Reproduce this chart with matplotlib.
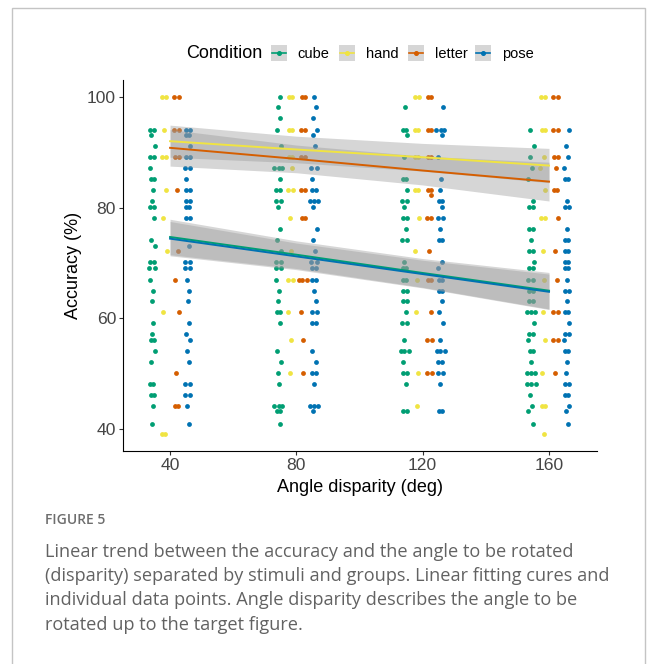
import matplotlib
matplotlib.use("Agg")
import matplotlib.pyplot as plt
from matplotlib.patches import Rectangle
from matplotlib.lines import Line2D
from collections import Counter

# ---------------- data ----------------
angles = [40, 80, 120, 160]
conditions = ["cube", "hand", "letter", "pose"]
colors = {"cube": "#009E73", "hand": "#F0E442", "letter": "#D55E00", "pose": "#0072B2"}

cube_40 = [94.1, 94.1, 93.1, 91.1, 89.2, 89.2, 87.1, 85.1, 85.1, 83.2, 81.2, 80.1, 80.1, 78.2,
           74.1, 73.1, 70.2, 70.2, 69.1, 69.1, 67.0, 65.0, 63.1, 59.1, 57.1, 56.1, 56.1, 54.1,
           52.1, 48.1, 48.1, 46.1, 46.1, 44.1, 41.0]
hand_40 = [100, 100, 94.1, 89.2, 89.2, 83.2, 78.2, 72.1, 61.1, 39.1, 39.1]
letter_40 = [100, 100, 94.1, 94.1, 89.2, 89.2, 83.2, 72.1, 67.0, 61.1, 50.1, 44.1, 44.1]
pose_40 = [94.1, 94.1, 93.1, 93.1, 91.1, 89.2, 89.2, 87.1, 87.1, 85.1, 83.2, 83.2, 81.2, 81.2,
           80.1, 80.1, 78.2, 78.2, 73.1, 70.2, 70.2, 69.1, 69.1, 67.0, 65.0, 63.1, 59.1, 57.1,
           56.1, 54.1, 52.1, 48.1, 48.1, 46.1, 46.1, 44.1, 41.0]

cube_80 = [100, 98.1, 96.1, 94.1, 91.1, 87.1, 87.1, 87.1, 85.1, 83.2, 83.2, 81.2, 81.2, 80.1,
           76.1, 74.1, 72.1, 70.2, 70.2, 69.1, 69.1, 67.0, 65.0, 63.1, 61.1, 61.1, 59.1, 54.1,
           52.1, 50.1, 48.1, 44.1, 44.1, 44.1, 43.2, 43.2, 41.0]
hand_80 = [100, 100, 94.1, 94.1, 89.2, 89.2, 87.1, 83.2, 83.2, 78.2, 72.1, 67.0, 67.0, 61.1,
           56.1, 50.1]
letter_80 = [100, 100, 94.1, 94.1, 89.2, 89.2, 83.2, 83.2, 78.2, 78.2, 67.0, 67.0, 67.0, 61.1,
             56.1, 50.1]
pose_80 = [100, 98.1, 96.1, 94.1, 93.1, 91.1, 87.1, 87.1, 85.1, 83.2, 83.2, 81.2, 81.2, 81.2,
           80.1, 76.1, 74.1, 72.1, 70.2, 70.2, 69.1, 69.1, 67.0, 67.0, 65.0, 63.1, 61.1, 61.1,
           59.1, 59.1, 54.1, 52.1, 50.1, 50.1, 48.1, 44.1, 44.1, 44.1, 43.2]

cube_120 = [98.1, 94.1, 94.1, 93.1, 89.2, 85.1, 85.1, 83.2, 81.2, 81.2, 80.1, 78.2, 78.2, 76.1,
            74.1, 74.1, 70.2, 69.1, 69.1, 67.0, 67.0, 65.0, 65.0, 63.1, 63.1, 61.1, 59.1, 59.1,
            56.1, 54.1, 54.1, 54.1, 52.1, 50.1, 50.1, 48.1, 43.2, 43.2]
hand_120 = [100, 100, 94.1, 94.1, 89.2, 89.2, 83.2, 83.2, 78.2, 72.1, 67.0, 61.1, 50.1, 44.1]
letter_120 = [100, 100, 94.1, 94.1, 89.2, 89.2, 83.2, 83.2, 82.2, 78.2, 78.2, 72.1, 67.0, 67.0,
              61.1, 56.1, 56.1, 50.1, 50.1]
pose_120 = [98.1, 94.1, 94.1, 94.1, 93.1, 89.2, 85.1, 83.2, 81.2, 81.2, 80.1, 78.2, 78.2, 76.1,
            74.1, 74.1, 70.2, 69.1, 67.0, 67.0, 65.0, 65.0, 63.1, 61.1, 59.1, 56.1, 54.1, 54.1,
            54.1, 52.1, 52.1, 50.1, 50.1, 48.1, 43.2, 43.2]

cube_160 = [94.1, 91.1, 89.2, 87.1, 85.1, 81.2, 80.1, 80.1, 76.1, 76.1, 74.1, 72.1, 72.1, 70.2,
            69.1, 69.1, 67.0, 67.0, 65.0, 65.0, 63.1, 63.1, 61.1, 61.1, 61.1, 59.1, 57.1, 57.1,
            56.1, 54.1, 54.1, 52.1, 50.1, 50.1, 50.1, 48.1, 48.1, 48.1, 46.1, 44.1, 43.2, 41.0]
hand_160 = [100, 100, 94.1, 94.1, 89.2, 87.1, 83.2, 78.2, 78.2, 72.1, 67.0, 61.1, 56.1, 50.1,
            44.1, 44.1, 39.1]
letter_160 = [100, 100, 94.1, 94.1, 89.2, 89.2, 87.1, 83.2, 83.2, 78.2, 72.1, 67.0, 61.1, 61.1,
              56.1, 56.1, 50.1]
pose_160 = [94.1, 91.1, 89.2, 87.1, 85.1, 85.1, 81.2, 80.1, 80.1, 76.1, 74.1, 74.1, 72.1, 72.1,
            70.2, 70.2, 69.1, 69.1, 67.0, 65.0, 65.0, 63.1, 61.1, 61.1, 59.1, 57.1, 57.1, 56.1,
            54.1, 54.1, 52.1, 50.1, 48.1, 48.1, 46.1, 46.1, 44.1, 43.2, 41.0]

points = {
    "cube": [cube_40, cube_80, cube_120, cube_160],
    "hand": [hand_40, hand_80, hand_120, hand_160],
    "letter": [letter_40, letter_80, letter_120, letter_160],
    "pose": [pose_40, pose_80, pose_120, pose_160],
}

# linear fits (value at each angle) and confidence band bounds
fit_cube = [74.7, 71.5, 68.2, 65.0]
fit_hand = [92.0, 90.5, 89.1, 87.6]
fit_letter = [90.8, 88.8, 86.7, 84.7]
fit_pose = [74.4, 71.2, 68.0, 64.8]

lo_cube = [71.5, 69.0, 65.6, 61.7]
hi_cube = [77.9, 74.0, 70.8, 68.3]
lo_hand = [89.1, 88.1, 86.6, 84.5]
hi_hand = [94.9, 92.9, 91.6, 90.7]
lo_letter = [87.5, 86.3, 84.1, 81.2]
hi_letter = [94.1, 91.3, 89.3, 88.2]
lo_pose = [71.3, 68.8, 65.5, 61.6]
hi_pose = [77.5, 73.6, 70.5, 68.0]

fits = {"cube": fit_cube, "hand": fit_hand, "letter": fit_letter, "pose": fit_pose}
bands = {"cube": (lo_cube, hi_cube), "hand": (lo_hand, hi_hand),
         "letter": (lo_letter, hi_letter), "pose": (lo_pose, hi_pose)}

x_ticks = [40, 80, 120, 160]
y_ticks = [40, 60, 80, 100]

caption_title = "FIGURE 5"
caption_lines = [
    "Linear trend between the accuracy and the angle to be rotated",
    "(disparity) separated by stimuli and groups. Linear fitting cures and",
    "individual data points. Angle disparity describes the angle to be",
    "rotated up to the target figure.",
]

# ---------------- figure ----------------
W, H = 657, 664
fig = plt.figure(figsize=(W / 100, H / 100), dpi=100)
fig.patch.set_facecolor("white")

def fx(px):
    return px / W

def fy(py):
    return 1 - py / H

# outer frame
fig.add_artist(Rectangle((fx(12), fy(700)), fx(645) - fx(12), fy(8) - fy(700),
                         transform=fig.transFigure, fill=False, edgecolor="#c4c4c4", lw=1.0))

ax = fig.add_axes([fx(123), fy(451), fx(597) - fx(123), fy(80) - fy(451)])
ax.set_xlim(25.1, 175.2)
ax.set_ylim(36.05, 103.05)

dodge = {"cube": -5.7, "hand": -1.9, "letter": 2.1, "pose": 5.6}
jit_cycle = [0.0, 0.55, -0.45, 0.8, -0.25, 0.3, -0.8, 0.6, -0.6, 0.15, -0.1, 0.45]

k = 0
for cond in conditions:
    xs, ys = [], []
    for a, vals in zip(angles, points[cond]):
        cnt = Counter(vals)
        for v, n in cnt.items():
            for i in range(n):
                off = (i - (n - 1) / 2) * 1.25
                j = jit_cycle[k % len(jit_cycle)] * (1.0 if n == 1 else 0.25)
                k += 1
                xs.append(a + dodge[cond] + off + j)
                ys.append(v)
    ax.scatter(xs, ys, s=12, color=colors[cond], linewidths=0, zorder=1)

for cond in conditions:
    lo, hi = bands[cond]
    ax.fill_between(angles, lo, hi, color="#999999", alpha=0.4, linewidth=0, zorder=2)
for cond in ["cube", "pose", "hand", "letter"]:
    ax.plot(angles, fits[cond], color=colors[cond], lw=1.4, zorder=3)

for s in ["top", "right"]:
    ax.spines[s].set_visible(False)
for s in ["left", "bottom"]:
    ax.spines[s].set_color("black")
    ax.spines[s].set_linewidth(0.8)

ax.set_xticks(x_ticks)
ax.set_yticks(y_ticks)
ax.set_xticklabels([str(t) for t in x_ticks])
ax.set_yticklabels([str(t) for t in y_ticks])
ax.tick_params(axis="both", length=3, width=0.8, color="#333333", labelcolor="#454545",
               labelsize=12.6, pad=2)
for lab in ax.get_xticklabels() + ax.get_yticklabels():
    lab.set_fontfamily("Liberation Sans")

ax.set_xlabel("Angle disparity (deg)", fontsize=13, family="Liberation Sans", labelpad=4)
ax.set_ylabel("Accuracy (%)", fontsize=13, family="Liberation Sans", labelpad=4)

# legend (drawn manually, ggplot-like horizontal layout)
fig.text(fx(186), fy(54), "Condition", fontsize=13, family="Liberation Sans",
         ha="left", va="center")
key_x = {"cube": 271, "hand": 339, "letter": 408, "pose": 475}
lab_x = {"cube": 297, "hand": 366, "letter": 435, "pose": 502}
for cond in conditions:
    x0 = key_x[cond]
    fig.add_artist(Rectangle((fx(x0), fy(60.5)), fx(15.5), fy(45) - fy(60.5),
                             transform=fig.transFigure, facecolor="#d6d6d6",
                             edgecolor="none"))
    fig.add_artist(Line2D([fx(x0 + 1), fx(x0 + 14.5)], [fy(52.7), fy(52.7)],
                          transform=fig.transFigure, color=colors[cond], lw=1.2))
    fig.add_artist(Line2D([fx(x0 + 7.75)], [fy(52.7)], transform=fig.transFigure,
                          marker="o", markersize=2.6, color=colors[cond], lw=0))
    fig.text(fx(lab_x[cond]), fy(54), cond, fontsize=10.5, family="Liberation Sans",
             ha="left", va="center")

# caption
fig.text(fx(45), fy(520), caption_title, fontsize=10, family="Open Sans",
         color="#6e6e6e", ha="left", va="center", fontweight="semibold")
for i, line in enumerate(caption_lines):
    fig.text(fx(45), fy(552 + 24.2 * i), line, fontsize=13.1, family="Open Sans",
             color="#626262", ha="left", va="center")

fig.savefig("out.png", dpi=100, facecolor="white")
